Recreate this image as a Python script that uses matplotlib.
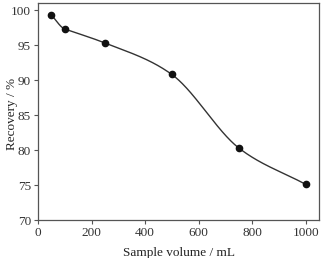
import numpy as np
import matplotlib
matplotlib.use("Agg")
import matplotlib.pyplot as plt

volume = [50, 100, 250, 500, 750, 1000]
recovery = [99.3, 97.3, 95.3, 90.8, 80.3, 75.1]


def pchip_d(x, y):
    h = np.diff(x)
    dl = np.diff(y) / h
    d = np.zeros_like(y)
    for i in range(1, len(x) - 1):
        if dl[i - 1] * dl[i] > 0:
            w1 = 2 * h[i] + h[i - 1]
            w2 = h[i] + 2 * h[i - 1]
            d[i] = (w1 + w2) / (w1 / dl[i - 1] + w2 / dl[i])
    d[0] = dl[0]
    d[-1] = dl[-1]
    return d


def smooth(x, y, n=300):
    # hermite curve through the points; slopes a bit softer than pchip at the knees
    x = np.asarray(x, float)
    y = np.asarray(y, float)
    h = np.diff(x)
    d = pchip_d(x, y)
    dl = np.diff(y) / h
    cr = d.copy()
    cr[1:-1] = (dl[:-1] * h[1:] + dl[1:] * h[:-1]) / (h[:-1] + h[1:])
    d = 0.5 * d + 0.5 * cr
    d[1] = dl[1]  # nearly straight between 100 and 250
    xs = np.linspace(x[0], x[-1], n)
    ys = np.empty_like(xs)
    for j, t in enumerate(xs):
        i = min(np.searchsorted(x, t, side="right") - 1, len(x) - 2)
        s = (t - x[i]) / h[i]
        h00 = 2 * s**3 - 3 * s**2 + 1
        h10 = s**3 - 2 * s**2 + s
        h01 = -2 * s**3 + 3 * s**2
        h11 = s**3 - s**2
        ys[j] = h00 * y[i] + h10 * h[i] * d[i] + h01 * y[i + 1] + h11 * h[i] * d[i + 1]
    return xs, ys


plt.rcParams['font.family'] = ['Liberation Serif', 'DejaVu Serif']
fig = plt.figure(figsize=(3.22, 2.58), dpi=100)
ax = fig.add_axes([0.118, 0.147, 0.873, 0.841])

xs, ys = smooth(volume, recovery)
ax.plot(xs, ys, color='#333333', lw=1.0)
ax.plot(volume, recovery, 'o', color='#111111', ms=4.5)

ax.set_xlim(0, 1050)
ax.set_ylim(70, 101)
ax.set_xticks([0, 200, 400, 600, 800, 1000])
ax.set_yticks([70, 75, 80, 85, 90, 95, 100])
ax.tick_params(labelsize=9.5, length=3, width=0.8, color='#555555', labelcolor='#333333', pad=2)
for s in ax.spines.values():
    s.set_color('#555555')
    s.set_linewidth(0.9)
ax.set_xlabel('Sample volume / mL', fontsize=9.5, color='#222222')
ax.xaxis.set_label_coords(0.5, -0.125)
ax.set_ylabel('Recovery / %', fontsize=9.5, color='#222222')
ax.yaxis.set_label_coords(-0.072, 0.49)

fig.savefig('out.png', dpi=100)
